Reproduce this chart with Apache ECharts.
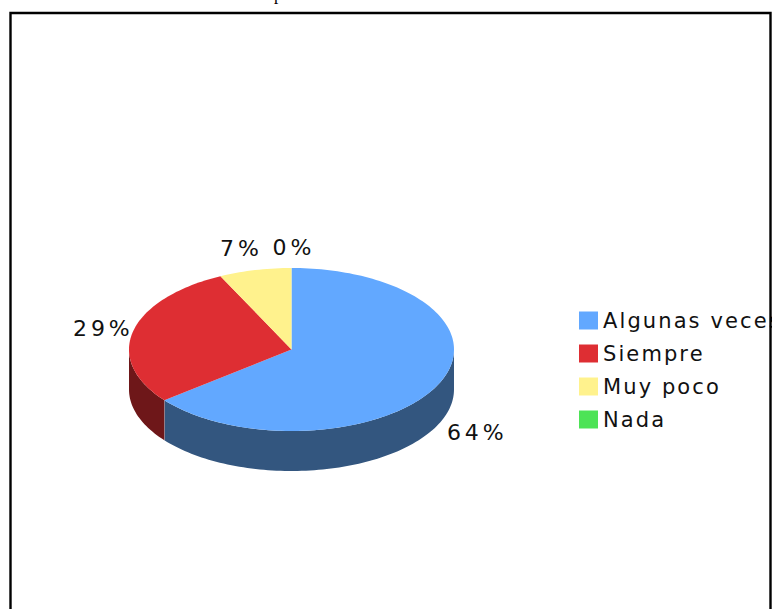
<!DOCTYPE html>
<html>
<head>
<meta charset="utf-8">
<script src="https://cdn.jsdelivr.net/npm/echarts@6/dist/echarts.min.js"></script>
<style>
  html, body { margin: 0; padding: 0; background: #fff; overflow: hidden; }
  #chart { width: 779px; height: 609px; }
  #chart text { letter-spacing: 2.1px; }
  #chart text[style*="22px"] { letter-spacing: 3.9px; }
</style>
</head>
<body>
<div id="chart"></div>
<script>
const categories = ['Algunas veces', 'Siempre', 'Muy poco', 'Nada']
const shares = [64.3, 28.5, 7.2, 0]

const topColors = ['#62a8ff', '#de2e33', '#fff28d', '#4de356']
const sideColors = ['#33567f', '#6e1719', '#7f7946', '#27722b']
// label left/middle point, relative to the rim point at the slice's mid angle
const labelShift = [[9, 48], [-60, -3], [-35, -22], [-19, -21]]

const cx = 291.5
const cy = 349.5
const rx = 162.5
const ry = 81.5
const depth = 40
const total = shares.reduce((a, b) => a + b, 0)

// angle in degrees, clockwise from 12 o'clock
const rim = (deg, drop) => {
  const r = deg * Math.PI / 180
  return [cx + rx * Math.sin(r), cy - ry * Math.cos(r) + drop]
}

const arc = (from, to, drop) => {
  const pts = []
  const steps = Math.max(1, Math.ceil((to - from) / 1.5))
  for (let i = 0; i <= steps; i++) {
    pts.push(rim(from + (to - from) * i / steps, drop))
  }
  return pts
}

const renderSlice = (index) => (params, api) => {
  const value = api.value(0)
  const before = shares.slice(0, index).reduce((a, b) => a + b, 0)
  const start = before / total * 360
  const end = (before + value) / total * 360
  const children = []

  // only the front half of the wall can be seen
  const wallFrom = Math.max(start, 90)
  const wallTo = Math.min(end, 270)
  if (wallTo > wallFrom) {
    const upper = arc(wallFrom, wallTo, 0)
    const lower = arc(wallFrom, wallTo, depth).reverse()
    children.push({
      type: 'polygon',
      shape: { points: upper.concat(lower) },
      style: { fill: sideColors[index] }
    })
    if (end < 270) {
      children.push({
        type: 'line',
        shape: {
          x1: rim(end, 0)[0], y1: rim(end, 0)[1],
          x2: rim(end, depth)[0], y2: rim(end, depth)[1]
        },
        style: { stroke: 'rgba(255,255,255,0.4)', lineWidth: 1 }
      })
    }
  }

  if (value > 0) {
    children.push({
      type: 'polygon',
      shape: { points: [[cx, cy]].concat(arc(start, end, 0)) },
      style: { fill: topColors[index] }
    })
  }

  const mid = rim((start + end) / 2, 0)
  children.push({
    type: 'text',
    style: {
      text: Math.round(value) + '%',
      x: mid[0] + labelShift[index][0],
      y: mid[1] + labelShift[index][1],
      fill: '#111',
      font: '22px "DejaVu Sans"',
      align: 'left',
      verticalAlign: 'middle'
    }
  })
  return { type: 'group', children }
}

const chart = echarts.init(document.getElementById('chart'), null, { renderer: 'svg' })

chart.setOption({
  animation: false,
  legend: {
    left: 574,
    top: 305,
    orient: 'vertical',
    itemWidth: 19,
    itemHeight: 18,
    itemGap: 12,
    icon: 'rect',
    selectedMode: false,
    itemStyle: { borderWidth: 0 },
    textStyle: { color: '#111', fontSize: 21, fontFamily: 'DejaVu Sans', padding: [0, 0, 0, 0] },
    data: categories
  },
  graphic: [
    {
      type: 'text',
      left: 274,
      top: -14,
      style: { text: 'p', font: '17px "Liberation Serif"', fill: '#000' }
    },
    {
      type: 'rect',
      z: 100,
      shape: { x: 772, y: 0, width: 7, height: 609 },
      style: { fill: '#fff' }
    },
    {
      type: 'rect',
      z: 101,
      shape: { x: 10.5, y: 13, width: 760, height: 700 },
      style: { fill: 'none', stroke: '#000', lineWidth: 2.4 }
    }
  ],
  series: categories.map((name, i) => ({
    type: 'custom',
    name,
    coordinateSystem: 'none',
    silent: true,
    itemStyle: { color: topColors[i] },
    renderItem: renderSlice(i),
    data: [[shares[i]]]
  }))
})
</script>
</body>
</html>
